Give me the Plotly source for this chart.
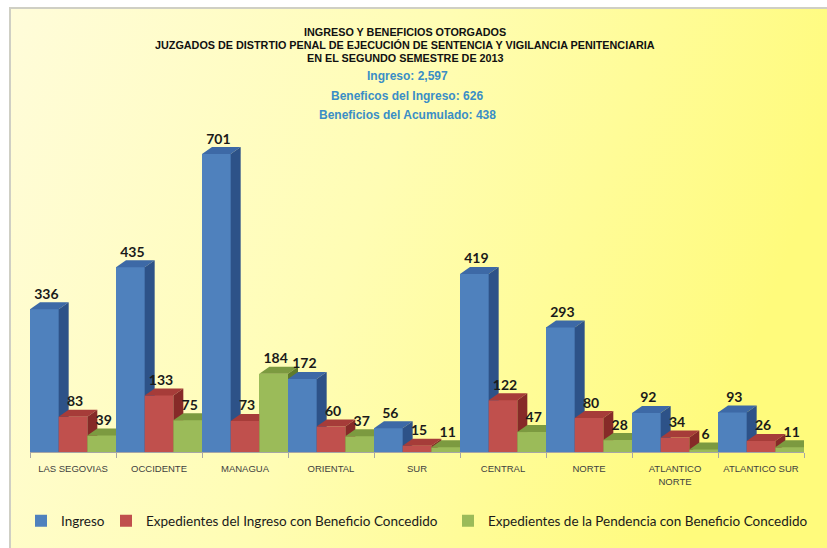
import base64
import plotly.graph_objects as go

# ---------------- data ----------------
categories = ["LAS SEGOVIAS", "OCCIDENTE", "MANAGUA", "ORIENTAL", "SUR",
              "CENTRAL", "NORTE", "ATLANTICO<br>NORTE", "ATLANTICO SUR"]
series_names = ["Ingreso",
                "Expedientes del Ingreso con Beneficio Concedido",
                "Expedientes de la Pendencia con Beneficio Concedido"]
ingreso = [336, 435, 701, 172, 56, 419, 293, 92, 93]
benef_ingreso = [83, 133, 73, 60, 15, 122, 80, 34, 26]
benef_pendencia = [39, 75, 184, 37, 11, 47, 28, 6, 11]
title_lines = ["INGRESO Y BENEFICIOS OTORGADOS",
               "JUZGADOS DE DISTRTIO PENAL DE EJECUCIÓN DE SENTENCIA Y VIGILANCIA PENITENCIARIA",
               "EN EL SEGUNDO SEMESTRE DE 2013"]
summary_lines = ["Ingreso: 2,597", "Beneficos del Ingreso: 626", "Beneficios del Acumulado: 438"]

values = [ingreso, benef_ingreso, benef_pendencia]
front_colors = ["#4F81BD", "#C0504D", "#9BBB59"]
top_colors = ["#3D69A6", "#A63C39", "#7C9A40"]
side_colors = ["#2D5288", "#862A28", "#5F7B2C"]

# ---------------- geometry ----------------
W, H = 827, 548
ML, MR, MT, MB = 30, 23, 100, 96
plot_w = W - ML - MR
plot_h = H - MT - MB
px_per_unit = 0.425
YMAX = plot_h / px_per_unit
bw = 1.0 / 3.0
cat_px = plot_w / 9.0
DX = 10.0 / cat_px          # depth in x (category units)
DY = 7.0 / px_per_unit      # depth in y (data units)

def px_to_paper_x(px):
    return (px - ML) / plot_w

def px_to_paper_y(py):
    return (H - MB - py) / plot_h

fig = go.Figure()

legend_ids = ["legend", "legend2", "legend3"]
# legend / base bars (front faces)
for s in range(3):
    fig.add_trace(go.Bar(
        x=list(range(9)), y=values[s], width=bw, offset=-0.5 + s * bw,
        marker=dict(color=front_colors[s], line=dict(width=0)),
        name=series_names[s], showlegend=True, legend=legend_ids[s], hoverinfo="skip"))

# 3D faces, painted back-to-front
for c in range(9):
    for s in range(3):
        v = values[s][c]
        x0 = c - 0.5 + s * bw
        x1 = x0 + bw
        faces = [
            ([x0, x1, x1, x0, x0], [0, 0, v, v, 0], front_colors[s]),
            ([x0, x0 + DX, x1 + DX, x1, x0], [v, v + DY, v + DY, v, v], top_colors[s]),
            ([x1, x1 + DX, x1 + DX, x1, x1], [0, DY, v + DY, v, 0], side_colors[s]),
        ]
        for xs, ys, col in faces:
            fig.add_trace(go.Scatter(
                x=xs, y=ys, mode="none", fill="toself", fillcolor=col,
                showlegend=False, hoverinfo="skip", cliponaxis=False))

# data labels
for s in range(3):
    fig.add_trace(go.Scatter(
        x=[c - 0.5 + s * bw + bw / 2 + DX * 0.2 for c in range(9)],
        y=[v + DY for v in values[s]],
        mode="text", text=[str(v) for v in values[s]],
        textposition="top center",
        textfont=dict(family="Lato, Liberation Sans, Arial", size=14, color="#1A1A1A", weight="bold"),
        showlegend=False, hoverinfo="skip", cliponaxis=False))

# background gradient with light frame
svg = ("<svg xmlns='http://www.w3.org/2000/svg' width='818' height='541' preserveAspectRatio='none'>"
       "<defs><linearGradient id='g' x1='0' y1='0' x2='1' y2='0.25'>"
       "<stop offset='0' stop-color='#FFFCDA'/><stop offset='0.5' stop-color='#FFFDB4'/>"
       "<stop offset='1' stop-color='#FFFB7C'/></linearGradient></defs>"
       "<rect x='1' y='1' width='820' height='545' fill='url(#g)' stroke='#CFCFC4' stroke-width='2'/></svg>")
src = "data:image/svg+xml;base64," + base64.b64encode(svg.encode()).decode()

fig.add_layout_image(dict(
    source=src, xref="paper", yref="paper",
    x=px_to_paper_x(9), y=px_to_paper_y(7),
    sizex=(W - 9) / plot_w, sizey=(H - 7) / plot_h,
    xanchor="left", yanchor="top", sizing="stretch", layer="below"))

annotations = []
title_y = [32, 45, 58]
for txt, py in zip(title_lines, title_y):
    annotations.append(dict(
        text="<b>" + txt + "</b>", xref="paper", yref="paper",
        x=px_to_paper_x(405), y=px_to_paper_y(py), xanchor="center", yanchor="middle",
        showarrow=False,
        font=dict(family="Liberation Sans, Arial", size=10.8, color="#111111")))
sum_y = [76, 96, 115]
for txt, py in zip(summary_lines, sum_y):
    annotations.append(dict(
        text="<b>" + txt + "</b>", xref="paper", yref="paper",
        x=px_to_paper_x(407), y=px_to_paper_y(py), xanchor="center", yanchor="middle",
        showarrow=False,
        font=dict(family="Liberation Sans, Arial", size=12, color="#3A8EC6")))

legend_font = dict(family="Lato, Liberation Sans, Arial", size=13.5, color="#1A1A1A")
legend_x_px = [21, 106, 448]
legend_layouts = {}
for lid, lx in zip(legend_ids, legend_x_px):
    legend_layouts[lid] = dict(
        orientation="h", x=px_to_paper_x(lx), y=px_to_paper_y(521),
        xanchor="left", yanchor="middle", itemwidth=30,
        font=legend_font, bgcolor="rgba(0,0,0,0)")

fig.update_layout(
    width=W, height=H,
    margin=dict(l=ML, r=MR, t=MT, b=MB, autoexpand=False),
    paper_bgcolor="white", plot_bgcolor="rgba(0,0,0,0)",
    barmode="overlay", bargap=0,
    annotations=annotations,
    showlegend=True,
    xaxis=dict(range=[-0.5, 8.5], tickvals=list(range(9)), ticktext=categories,
               showgrid=False, zeroline=False, showline=True, linecolor="#A6A6A6", linewidth=1,
               ticks="", ticklabelstandoff=8,
               tickfont=dict(family="Liberation Sans, Arial", size=9.5, color="#404040"),
               minor=dict(tickvals=[i - 0.5 for i in range(10)], ticks="outside", ticklen=5,
                          tickcolor="#A6A6A6", showgrid=False),
               fixedrange=True),
    yaxis=dict(range=[0, YMAX], visible=False, showgrid=False, zeroline=False, fixedrange=True),
    **legend_layouts,
)

fig.write_html("out.html", config={"displayModeBar": False},
               post_script="document.body.style.margin='0';document.body.style.overflow='hidden';")
